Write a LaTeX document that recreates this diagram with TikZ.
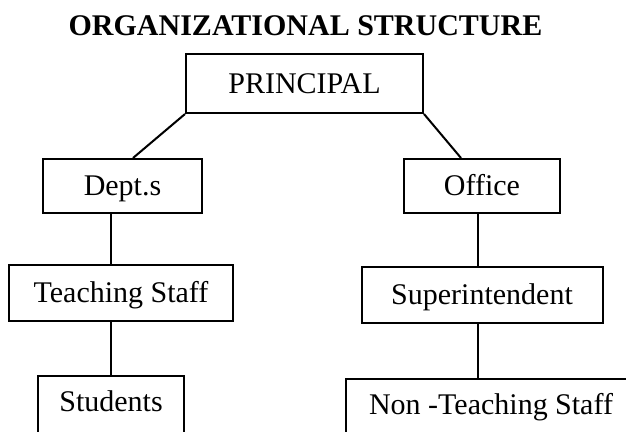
\documentclass[tikz,border=0pt]{standalone}
\usepackage{fontspec}
\setmainfont{Liberation Serif}
\usetikzlibrary{positioning}
\tikzstyle{post} = [
    rectangle, draw, line width=0.8pt,
    minimum height=22pt, inner sep=0pt, % text is centred by its caps
    text height=7.9pt, text depth=0pt,
    font=\fontsize{12}{14}\selectfont
]
\tikzstyle{lowpost} = [
    post, text depth=24pt, inner ysep=6.4pt % runs off the page bottom
]
\begin{document}
\begin{tikzpicture}[node distance=20pt, line width=0.8pt]
        \path[use as bounding box, clip] (0,0) rectangle (250.4pt,-172.4pt);

        % Heading
        \node[anchor=base, font=\fontsize{12}{14}\selectfont\bfseries] (title) at (122.2pt,-14pt) {ORGANIZATIONAL STRUCTURE};

        % Top post
        \node[post, minimum width=94.8pt, minimum height=23.6pt] (principal) at (121.8pt,-33.4pt) {PRINCIPAL};

        % Two branches
        \node[post, minimum width=63.6pt, minimum height=21.6pt] (depts) [below=17.6pt of principal, xshift=-72.8pt] {Dept.s};
        \node[post, minimum width=62.4pt, minimum height=21.6pt] (office) [below=17.6pt of principal, xshift=71pt] {Office};

        % Second level
        \node[post, minimum width=89.6pt, minimum height=22.4pt] (teaching) [below=of depts, xshift=-0.6pt] {Teaching Staff};
        \node[post, minimum width=96.4pt, minimum height=22.4pt] (supdt) [below=20.8pt of office] {Superintendent};

        % Bottom level
        \node[lowpost, minimum width=58.4pt] (students) [below=21.2pt of teaching, xshift=-4pt] {Students};
        \node[lowpost, minimum width=116.4pt] (nonteaching) [below=21.6pt of supdt, xshift=3.6pt] {Non -Teaching Staff};

        % Connectors
        \draw (principal.south west) -- ([xshift=4.2pt]depts.north);
        \draw (principal.south east) -- ([xshift=-8.4pt]office.north);
        \draw (depts.south -| students.north) -- (teaching.north -| students.north);
        \draw (teaching.south -| students.north) -- (students.north);
        \draw ([xshift=-1.8pt]supdt.north |- office.south) -- ([xshift=-1.8pt]supdt.north);
        \draw ([xshift=-1.8pt]supdt.south) -- ([xshift=-1.8pt]supdt.south |- nonteaching.north);

    \end{tikzpicture}
\end{document}
